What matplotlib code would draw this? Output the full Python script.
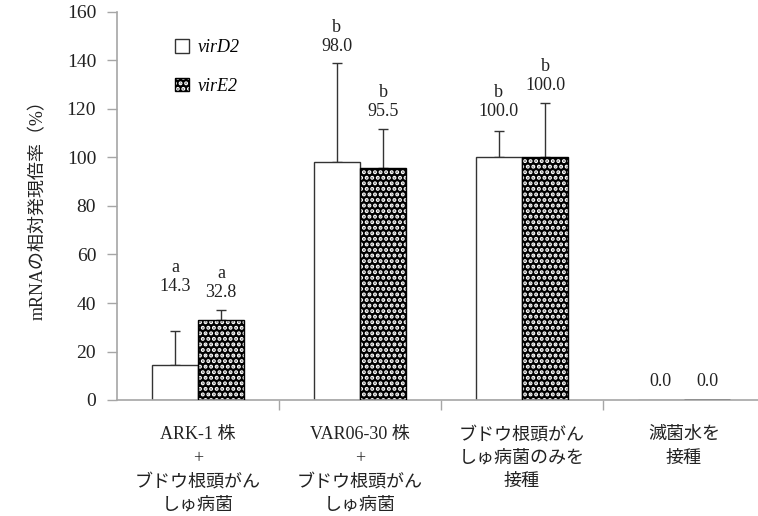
import numpy as np
import matplotlib.pyplot as plt
from matplotlib.patches import Patch

plt.rcParams['font.family'] = ['Liberation Serif', 'Noto Sans CJK JP']
plt.rcParams['hatch.linewidth'] = 2.0

# relative expression of virD2 / virE2 (%)
groups = ['ARK-1 株\n+\nブドウ根頭がん\nしゅ病菌',
          'VAR06-30 株\n+\nブドウ根頭がん\nしゅ病菌',
          'ブドウ根頭がん\nしゅ病菌のみを\n接種',
          '滅菌水を\n接種']
vird2 = [14.3, 98.0, 100.0, 0.0]
vire2 = [32.8, 95.5, 100.0, 0.0]
vird2_err = [14.3, 41.1, 11.1, 0.0]
vire2_err = [4.3, 16.1, 22.3, 0.0]
vird2_sig = ['a', 'b', 'b', '']
vire2_sig = ['a', 'b', 'b', '']
# bottom of each value label (data units)
vird2_lab_y = [43.3, 142.3, 115.5, 4.1]
vire2_lab_y = [40.8, 115.5, 126.2, 4.1]

fig = plt.figure(figsize=(7.58, 5.16), dpi=100)
ax = fig.add_axes([117/758, 116/516, 648/758, 388/516])

x = np.arange(len(groups))
w = 0.285
gray = '#a6a6a6'

ax.bar(x - w/2, vird2, w, facecolor='white', edgecolor='#333333', linewidth=1.0, zorder=2)
ax.bar(x + w/2, vire2, w, facecolor='black', edgecolor='white', hatch='...', linewidth=0, zorder=2)
ax.bar(x + w/2, vire2, w, fill=False, edgecolor='black', linewidth=1.0, zorder=3)

# upper error bars only, skipped for the zero bars
for xs, vals, errs in [(x - w/2, vird2, vird2_err), (x + w/2, vire2, vire2_err)]:
    ax.errorbar(xs[:3], vals[:3], yerr=[np.zeros(3), errs[:3]], fmt='none',
                ecolor='#333333', elinewidth=1.0, capsize=3.5, capthick=1.0, zorder=1)

for xs, vals, sig, ly in [(x - w/2, vird2, vird2_sig, vird2_lab_y),
                          (x + w/2, vire2, vire2_sig, vire2_lab_y)]:
    for xi, v, s, yy in zip(xs, vals, sig, ly):
        txt = f'{s}\n{v:.1f}' if s else f'{v:.1f}'
        ax.text(xi, yy, txt, ha='center', va='bottom', fontsize=13,
                linespacing=1.15, color='#222222')

ax.set_xlim(-0.5, 3.5)
ax.set_ylim(0, 160)
ax.set_yticks(np.arange(0, 161, 20))
ax.set_xticks(x)
ax.set_xticklabels(groups, fontsize=13, linespacing=1.5, color='#222222')
ax.set_xticks([0.5, 1.5, 2.5], minor=True)
ax.tick_params(axis='x', which='major', length=0, pad=19)
ax.tick_params(axis='x', which='minor', length=7, color=gray, width=1)
ax.tick_params(axis='y', length=7, color=gray, width=1, labelsize=14, labelcolor='#222222', pad=8)

for s in ['top', 'right']:
    ax.spines[s].set_visible(False)
for s in ['left', 'bottom']:
    ax.spines[s].set_color(gray)
    ax.spines[s].set_linewidth(1.2)

ax.set_ylabel('mRNAの相対発現倍率（%）', fontsize=13, labelpad=14, color='#222222')

handles = [Patch(facecolor='white', edgecolor='#333333', linewidth=1.0),
           (Patch(facecolor='black', edgecolor='white', hatch='...', linewidth=0),
            Patch(fill=False, edgecolor='black', linewidth=1.0))]
leg = ax.legend(handles, ['virD2', 'virE2'], loc='upper left',
                bbox_to_anchor=(0.064, 0.973), frameon=False,
                handlelength=0.8, handleheight=0.8, handletextpad=0.5,
                labelspacing=1.2, prop={'style': 'italic', 'size': 13})

fig.savefig('out.png', dpi=100)
